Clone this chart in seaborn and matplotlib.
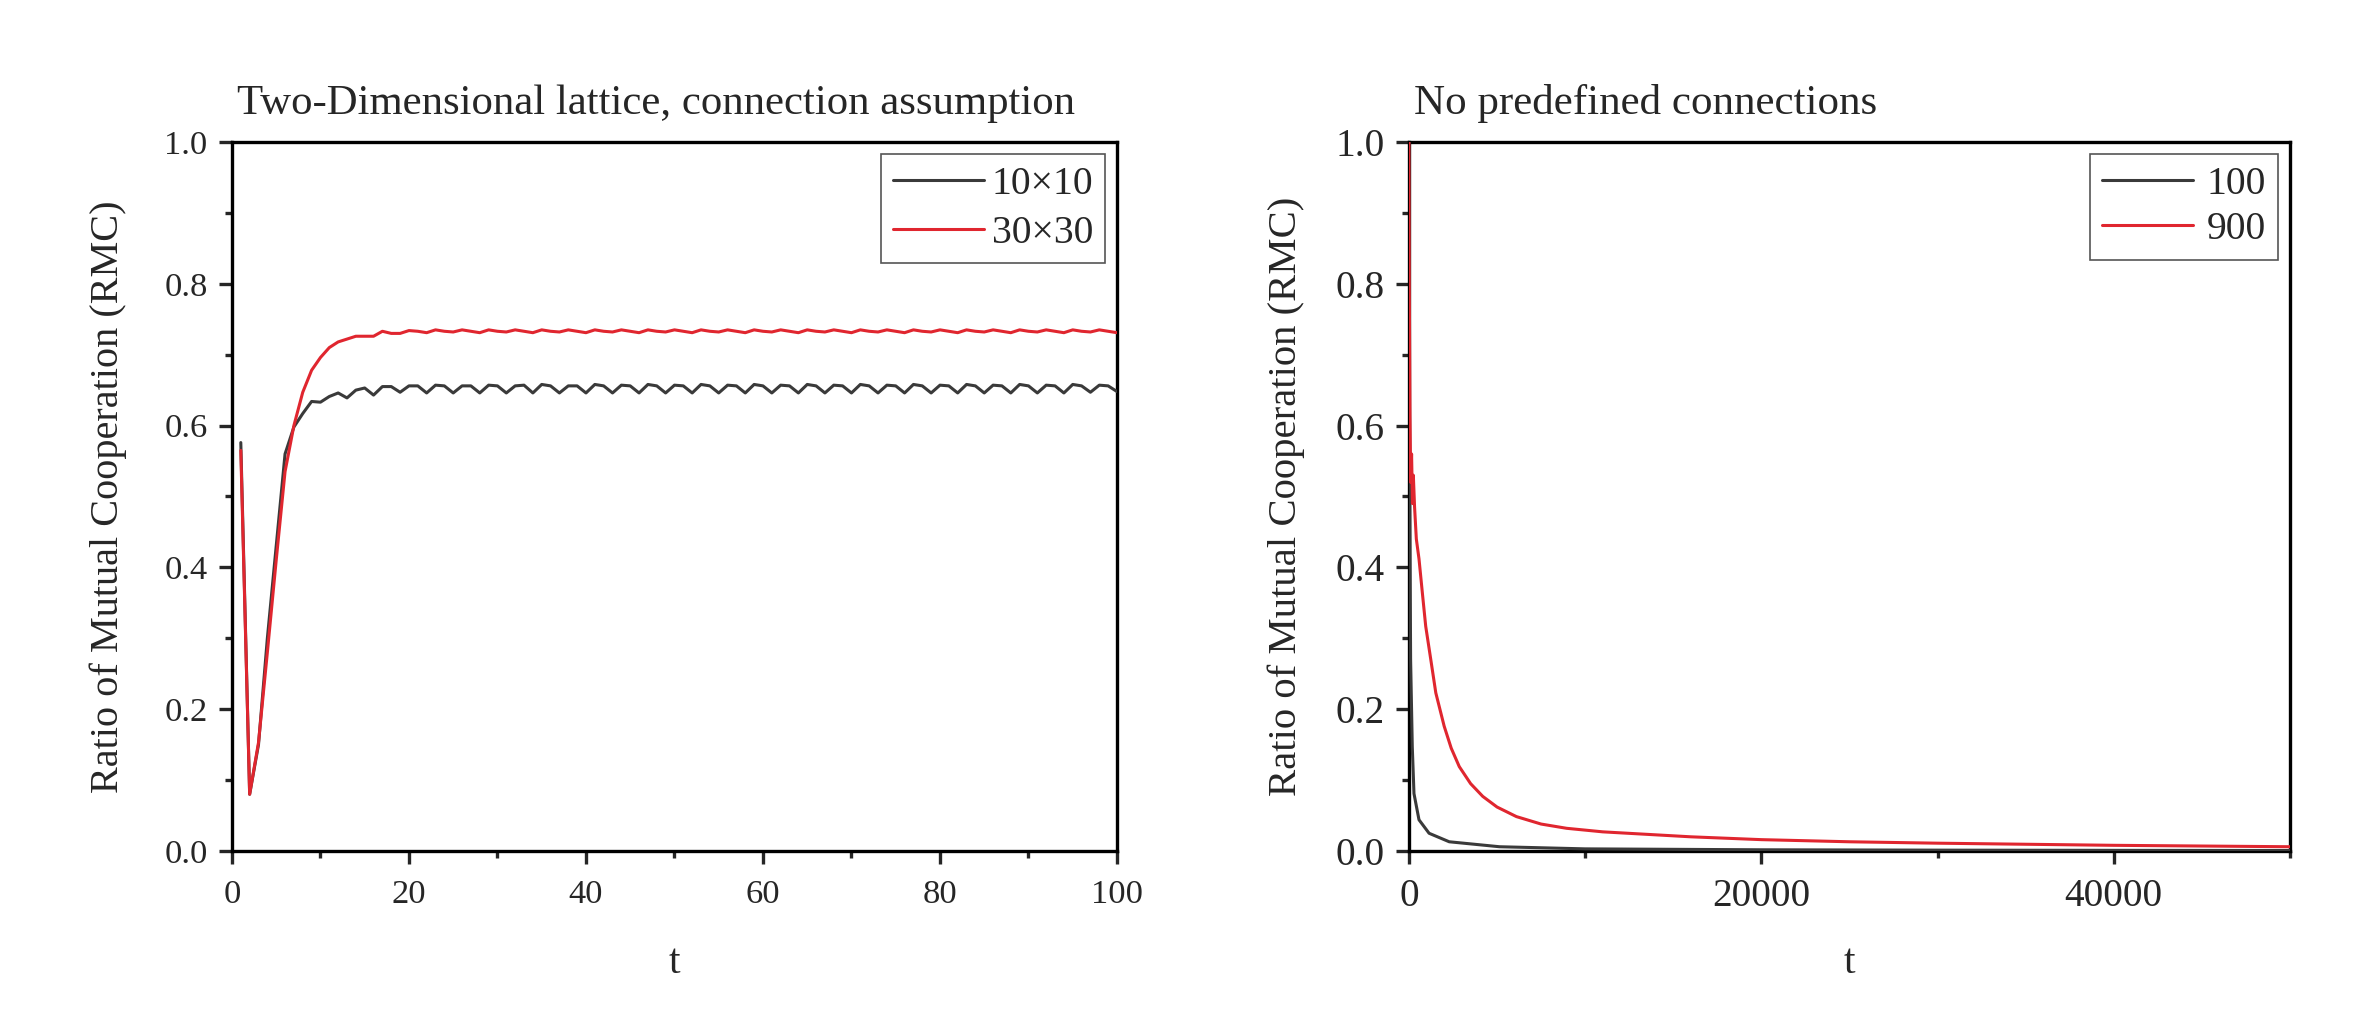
import matplotlib
matplotlib.use("Agg")
import matplotlib.pyplot as plt
from matplotlib.ticker import MultipleLocator, FormatStrFormatter
import seaborn as sns
import pandas as pd

# left panel: 2D lattice, t = 1..100
t_lattice = list(range(1, 101))
rmc_10x10 = [
    0.576, 0.080, 0.150, 0.300, 0.430, 0.560, 0.598, 0.617, 0.634, 0.633,
    0.641, 0.646, 0.639, 0.650, 0.653, 0.643, 0.655, 0.655, 0.647, 0.656,
    0.656, 0.646, 0.657, 0.656, 0.646, 0.656, 0.656, 0.646, 0.657, 0.656,
    0.646, 0.656, 0.657, 0.646, 0.658, 0.656, 0.646, 0.656, 0.656, 0.646,
    0.658, 0.656, 0.646, 0.657, 0.656, 0.646, 0.658, 0.656, 0.646, 0.657,
    0.656, 0.646, 0.658, 0.656, 0.646, 0.657, 0.656, 0.646, 0.658, 0.656,
    0.646, 0.657, 0.656, 0.646, 0.658, 0.656, 0.646, 0.657, 0.656, 0.646,
    0.658, 0.656, 0.646, 0.657, 0.656, 0.646, 0.658, 0.656, 0.646, 0.657,
    0.656, 0.646, 0.658, 0.656, 0.646, 0.657, 0.656, 0.646, 0.658, 0.656,
    0.646, 0.657, 0.656, 0.646, 0.658, 0.656, 0.647, 0.657, 0.656, 0.648,
]
rmc_30x30 = [
    0.565, 0.080, 0.153, 0.280, 0.410, 0.535, 0.600, 0.647, 0.678, 0.696,
    0.710, 0.718, 0.722, 0.726, 0.726, 0.726, 0.733, 0.730, 0.730, 0.734,
    0.733, 0.731, 0.735, 0.733, 0.732, 0.735, 0.733, 0.731, 0.735, 0.733,
    0.732, 0.735, 0.733, 0.731, 0.735, 0.733, 0.732, 0.735, 0.733, 0.731,
    0.735, 0.733, 0.732, 0.735, 0.733, 0.731, 0.735, 0.733, 0.732, 0.735,
    0.733, 0.731, 0.735, 0.733, 0.732, 0.735, 0.733, 0.731, 0.735, 0.733,
    0.732, 0.735, 0.733, 0.731, 0.735, 0.733, 0.732, 0.735, 0.733, 0.731,
    0.735, 0.733, 0.732, 0.735, 0.733, 0.731, 0.735, 0.733, 0.732, 0.735,
    0.733, 0.731, 0.735, 0.733, 0.732, 0.735, 0.733, 0.731, 0.735, 0.733,
    0.732, 0.735, 0.733, 0.731, 0.735, 0.733, 0.732, 0.735, 0.733, 0.731,
]

# right panel: no predefined connections
t_100 = [0, 10, 40, 95, 190, 286, 571, 1143, 2286, 5140, 10000, 20000, 30000, 40000, 50000]
rmc_100 = [1.0, 0.80, 0.55, 0.27, 0.147, 0.081, 0.044, 0.025, 0.013, 0.006, 0.003,
           0.0017, 0.0012, 0.0009, 0.0007]
t_900 = [0, 20, 60, 100, 150, 200, 250, 320, 420, 571, 762, 952, 1240, 1525, 2000,
         2400, 2857, 3500, 4190, 5000, 6100, 7500, 8950, 11000, 13140, 16000, 20000,
         25000, 30000, 35000, 40000, 45000, 50000]
rmc_900 = [1.0, 0.80, 0.614, 0.52, 0.56, 0.49, 0.53, 0.485, 0.44, 0.412, 0.364, 0.317,
           0.270, 0.223, 0.176, 0.145, 0.119, 0.095, 0.077, 0.062, 0.0485, 0.038, 0.032,
           0.027, 0.024, 0.020, 0.016, 0.013, 0.011, 0.0095, 0.008, 0.007, 0.006]

colors = ["#3a3a3a", "#e0262f"]

df_left = pd.concat([
    pd.DataFrame({"t": t_lattice, "RMC": rmc_10x10, "size": "10\u00d710"}),
    pd.DataFrame({"t": t_lattice, "RMC": rmc_30x30, "size": "30\u00d730"}),
])
df_right = pd.concat([
    pd.DataFrame({"t": t_100, "RMC": rmc_100, "size": "100"}),
    pd.DataFrame({"t": t_900, "RMC": rmc_900, "size": "900"}),
])

sns.set_style("ticks")
plt.rcParams["font.family"] = ["Liberation Serif", "DejaVu Serif"]

fig = plt.figure(figsize=(23.62, 10.09), dpi=100)
ax1 = fig.add_axes([0.0982, 0.1566, 0.3747, 0.7027])
ax2 = fig.add_axes([0.5965, 0.1566, 0.3730, 0.7027])

# (axes, data, title, xlim, major, minor, tick font, x tick pad,
#  title px width, ylabel px length, legend row spacing, legend text pad)
panels = [
    (ax1, df_left, "Two-Dimensional lattice, connection assumption", (0, 100), 20, 10,
     24.8, 11, 838, 592, 0.3, 0.2),
    (ax2, df_right, "No predefined connections", (0, 50000), 20000, 10000,
     28.3, 10, 463, 600, 0.2, 0.35),
]

fig.canvas.draw()
renderer = fig.canvas.get_renderer()

for ax, df, title, xlim, major, minor, tfs, xpad, title_w, ylab_h, lsp, htp in panels:
    sns.lineplot(data=df, x="t", y="RMC", hue="size", palette=colors,
                 estimator=None, linewidth=2.2, ax=ax, zorder=3)
    ax.set_xlim(*xlim)
    ax.set_ylim(0, 1.0)
    ax.xaxis.set_major_locator(MultipleLocator(major))
    ax.xaxis.set_minor_locator(MultipleLocator(minor))
    ax.yaxis.set_major_locator(MultipleLocator(0.2))
    ax.yaxis.set_minor_locator(MultipleLocator(0.1))
    ax.yaxis.set_major_formatter(FormatStrFormatter("%.1f"))
    for s in ax.spines.values():
        s.set_visible(True)
        s.set_linewidth(2.4)
        s.set_color("black")
    ax.tick_params(which="major", direction="out", length=9.6, width=2.4,
                   labelsize=tfs, top=False, right=False)
    ax.tick_params(which="minor", direction="out", length=5, width=2.4,
                   top=False, right=False)
    ax.tick_params(axis="x", which="major", pad=xpad)
    ax.tick_params(axis="y", which="major", pad=8)

    ax.set_xlabel("t", fontsize=30, va="baseline")
    ax.xaxis.set_label_coords(0.5, -0.1716)
    yl = ax.set_ylabel("Ratio of Mutual Cooperation (RMC)", fontsize=28.5, va="center")
    ax.yaxis.set_label_coords(-0.1396, 0.5)
    h = yl.get_window_extent(renderer).height
    yl.set_fontsize(28.5 * ylab_h / h)

    tt = ax.text(0.006, 1.039, title, transform=ax.transAxes, fontsize=30,
                 ha="left", va="baseline")
    w = tt.get_window_extent(renderer).width
    tt.set_fontsize(30 * title_w / w)

    handles, labels = ax.get_legend_handles_labels()
    leg = ax.legend(handles, labels, loc="upper right", fontsize=28.5,
                    frameon=True, fancybox=False, framealpha=1,
                    edgecolor="#555555", handlelength=2.3, handletextpad=htp,
                    borderpad=0.3, labelspacing=lsp, borderaxespad=0.3)
    leg.get_frame().set_linewidth(1.2)
    for line in leg.get_lines():
        line.set_linewidth(2.2)

fig.savefig("out.png", dpi=100)
